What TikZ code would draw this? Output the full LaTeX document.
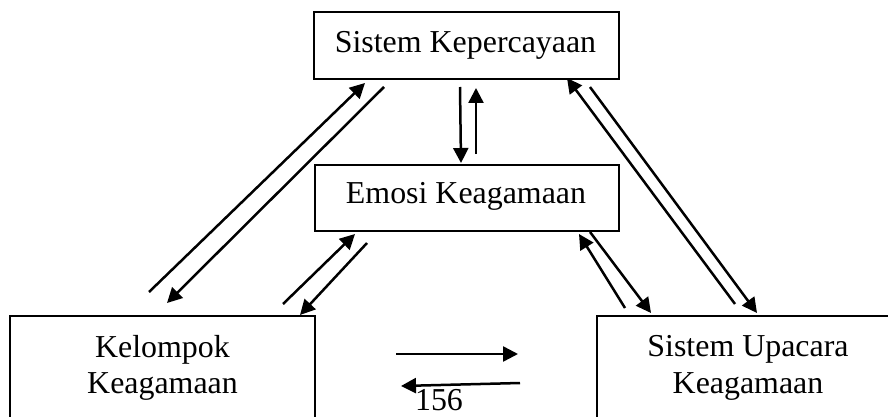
\documentclass[tikz,border=0pt]{standalone}
\usepackage{fontspec}
\setmainfont{Liberation Serif}
\usetikzlibrary{arrows.meta}
\begin{document}
\begin{tikzpicture}[x=1pt,y=-1pt,
  box/.style={draw,line width=2.3pt,inner sep=0pt,anchor=north west},
  lbl/.style={inner sep=0pt,anchor=base,font=\fontsize{31.9}{37}\selectfont},
  conn/.style={line width=2.5pt,-{Triangle[length=15pt,width=15pt]}}]
\useasboundingbox (0,0) rectangle (888,417);
\clip (0,0) rectangle (888,417);
% boxes
\node[box,minimum width=305pt,minimum height=67pt] (sk) at (313,11) {};
\node[box,minimum width=304pt,minimum height=66pt] (ek) at (314,164) {};
\node[box,minimum width=305pt,minimum height=140pt] (kk) at (9,315) {};
\node[box,minimum width=305pt,minimum height=140pt] (su) at (596,315) {};
% texts
\node[lbl] (tsk) at (465.5,53) {Sistem Kepercayaan};
\node[lbl] (tek) at (466,203) {Emosi Keagamaan};
\node[lbl] (tkk1) at (162.5,357) {Kelompok};
\node[lbl] (tkk2) at (162.5,393) {Keagamaan};
\node[lbl] (tsu1) at (748,356) {Sistem Upacara};
\node[lbl] (tsu2) at (748,393) {Keagamaan};
\node[lbl] (pg) at (439,410.5) {156};
% connector end points
\coordinate (a1s) at (149,292); \coordinate (a1e) at (365,83);
\coordinate (a2s) at (384,87);  \coordinate (a2e) at (167,303);
\coordinate (a3s) at (283,304); \coordinate (a3e) at (355,234);
\coordinate (a4s) at (367,243); \coordinate (a4e) at (300,315);
\coordinate (a5s) at (460,87);  \coordinate (a5e) at (461,163);
\coordinate (a6s) at (476,154); \coordinate (a6e) at (476,88);
\coordinate (a7s) at (735,304); \coordinate (a7e) at (567,78);
\coordinate (a8s) at (590,87);  \coordinate (a8e) at (757,313);
\coordinate (a9s) at (625,308); \coordinate (a9e) at (579,234);
\coordinate (a10s) at (590,232); \coordinate (a10e) at (651,313);
\coordinate (a11s) at (396,354); \coordinate (a11e) at (518,354);
\coordinate (a12s) at (520,383); \coordinate (a12e) at (401,386);
% connectors
\draw[conn] (a1s) -- (a1e);
\draw[conn] (a2s) -- (a2e);
\draw[conn] (a3s) -- (a3e);
\draw[conn] (a4s) -- (a4e);
\draw[conn] (a5s) -- (a5e);
\draw[conn] (a6s) -- (a6e);
\draw[conn] (a7s) -- (a7e);
\draw[conn] (a8s) -- (a8e);
\draw[conn] (a9s) -- (a9e);
\draw[conn] (a10s) -- (a10e);
\draw[conn] (a11s) -- (a11e);
\draw[conn] (a12s) -- (a12e);
\end{tikzpicture}
\end{document}
